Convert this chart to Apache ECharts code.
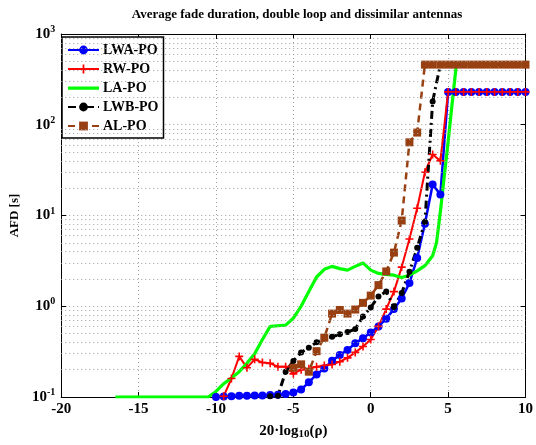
<!DOCTYPE html>
<html>
<head>
<meta charset="utf-8">
<script src="https://cdn.jsdelivr.net/npm/echarts@6/dist/echarts.min.js"></script>
<style>
html,body{margin:0;padding:0;background:#fff;}
#chart{width:536px;height:445px;}
</style>
</head>
<body>
<div id="chart"></div>
<script>
// ---- data ----
const lwaX = [-10,-9.5,-9,-8.5,-8,-7.5,-7,-6.5,-6,-5.5,-5,-4.5,-4,-3.5,-3,-2.5,-2,-1.5,-1,-0.5,0,0.5,1,1.5,2,2.5,3,3.5,4,4.5,5,5.5,6,6.5,7,7.5,8,8.5,9,9.5,10];
const lwaY = [0.100,0.101,0.102,0.103,0.103,0.104,0.104,0.105,0.106,0.108,0.112,0.121,0.145,0.177,0.206,0.251,0.291,0.33,0.39,0.445,0.515,0.60,0.73,0.93,1.22,1.8,3.4,8.1,22,17,230,230,230,230,230,230,230,230,230,230,230];

const rwX = [-9.5,-9,-8.5,-8,-7.5,-7,-6.5,-6,-5.5,-5,-4.5,-4,-3.5,-3,-2.5,-2,-1.5,-1,-0.5,0,0.5,1,1.5,2,2.5,3,3.5,4,4.5,5,5.5,6,6.5,7,7.5,8,8.5,9,9.5,10];
const rwY = [0.102,0.16,0.28,0.21,0.26,0.24,0.235,0.216,0.216,0.18,0.20,0.205,0.215,0.222,0.228,0.245,0.27,0.31,0.36,0.43,0.60,0.93,1.45,2.7,5.5,12,30,47,40,230,230,230,230,230,230,230,230,230,230,230];

const laX = [-16.5,-10.5,-10,-9.5,-9,-8.5,-8,-7.5,-7,-6.5,-6,-5.5,-5,-4.5,-4,-3.5,-3,-2.5,-2,-1.5,-1,-0.5,0,0.5,1,1.5,2,2.5,3,3.5,4,4.25,4.5,4.75,5,5.25,5.5,5.55,10];
const laY = [0.1,0.1,0.115,0.14,0.162,0.19,0.235,0.30,0.43,0.60,0.61,0.62,0.74,1.0,1.45,2.1,2.55,2.75,2.6,2.5,2.75,3.0,2.5,2.3,2.25,2.2,2.07,2.2,2.45,2.8,3.6,5.0,11,27,65,165,410,460,460];

const lwbX = [-6.5,-6,-5.5,-5,-4.5,-4,-3.5,-3,-2.5,-2,-1.5,-1,-0.5,0,0.5,1,1.5,2,2.5,3,3.5,4,4.5,10];
const lwbY = [0.102,0.103,0.19,0.25,0.31,0.35,0.40,0.44,0.46,0.49,0.52,0.56,0.77,0.97,1.28,1.45,0.98,1.4,2.4,4.4,8.5,180,460,460];

const alX = [-5,-4.5,-4,-3.5,-3,-2.5,-2,-1.5,-1,-0.5,0,0.5,1,1.5,2,2.5,3,3.5,4,4.5,5,5.5,6,6.5,7,7.5,8,8.5,9,9.5,10];
const alY = [0.21,0.229,0.19,0.32,0.45,0.83,0.91,0.83,0.92,1.09,1.31,1.71,2.42,3.9,8.8,64,82,460,460,460,460,460,460,460,460,460,460,460,460,460,460];

const seriesNames = ['LWA-PO','RW-PO','LA-PO','LWB-PO','AL-PO'];
const yMinorGrid = [0.2,0.3,0.4,0.5,0.6,0.7,0.8,0.9,2,3,4,5,6,7,8,9,20,30,40,50,60,70,80,90,200,300,400,500,600,700,800,900];

function pairs(xs, ys){ return xs.map((x,i)=>[x, ys[i]]); }

const FONT = '"Liberation Serif","Times New Roman",serif';
const gridDot = {color:'#a0a0a0', type:[1,3], width:1};
// legend icon for the marker-less green line: a bar with tiny invisible corners keeping a 31x11 box
const barIcon = 'path://M0,0h0.01v0.01h-0.01zM0,4h31v3.2h-31zM30.99,10.99h0.01v0.01h-0.01z';

const chart = echarts.init(document.getElementById('chart'), null, {renderer:'canvas'});
chart.setOption({
  animation:false,
  backgroundColor:'#fff',
  title:{
    text:'Average fade duration, double loop and dissimilar antennas',
    left:292, top:3, textAlign:'center',
    textStyle:{fontFamily:FONT, fontWeight:'bold', fontSize:13, color:'#000'}
  },
  grid:{left:55, right:6, top:34, bottom:40, containLabel:false},
  legend:{
    orient:'vertical', left:62, top:37,
    data:[
      {name:seriesNames[0]},
      {name:seriesNames[1]},
      {name:seriesNames[2], icon:barIcon, itemStyle:{color:'#00ff00'}},
      {name:seriesNames[3]},
      {name:seriesNames[4]}
    ],
    backgroundColor:'#fff', borderColor:'#000', borderWidth:1.5,
    padding:[6,5,5,5], itemGap:5, itemWidth:31, itemHeight:11,
    textStyle:{fontFamily:FONT, fontWeight:'bold', fontSize:14, color:'#000', padding:[0,0,0,-1]}
  },
  xAxis:[{
    type:'value', min:-20, max:10, interval:5,
    name:'20·log{sub|10}(ρ)', nameLocation:'middle', nameGap:25,
    nameTextStyle:{fontFamily:FONT, fontWeight:'bold', fontSize:15, color:'#000',
      rich:{sub:{fontFamily:FONT, fontWeight:'bold', fontSize:11, verticalAlign:'bottom', padding:[7,0,0,0], color:'#000'}}},
    axisLine:{onZero:false, lineStyle:{color:'#000', width:1}},
    axisTick:{inside:true, length:5, lineStyle:{color:'#000'}},
    axisLabel:{fontFamily:FONT, fontWeight:'bold', fontSize:15, color:'#000', margin:5},
    splitLine:{show:true, lineStyle:gridDot}
  },{
    type:'value', min:-20, max:10, interval:5, position:'top',
    axisLine:{show:true, onZero:false, lineStyle:{color:'#000', width:1}},
    axisTick:{inside:true, length:5, lineStyle:{color:'#000'}},
    axisLabel:{show:false}, splitLine:{show:false}
  }],
  yAxis:[{
    type:'log', logBase:10, min:0.1, max:1000,
    name:'AFD [s]', nameLocation:'middle', nameGap:40, nameRotate:90,
    nameTextStyle:{fontFamily:FONT, fontWeight:'bold', fontSize:13, color:'#000'},
    axisLine:{show:true, onZero:false, lineStyle:{color:'#000', width:1}},
    axisTick:{inside:true, length:5, lineStyle:{color:'#000'}},
    axisLabel:{
      fontFamily:FONT, fontWeight:'bold', fontSize:15, color:'#000', margin:6,
      formatter:function(v){ return '10{sup|' + Math.round(Math.log10(v)) + '}'; },
      rich:{sup:{fontFamily:FONT, fontWeight:'bold', fontSize:10, verticalAlign:'top', padding:[0,0,9,0], color:'#000'}}
    },
    splitLine:{show:true, lineStyle:gridDot}
  },{
    type:'log', logBase:10, min:0.1, max:1000, position:'right',
    axisLine:{show:true, onZero:false, lineStyle:{color:'#000', width:1}},
    axisTick:{inside:true, length:5, lineStyle:{color:'#000'}},
    axisLabel:{show:false}, splitLine:{show:false}
  }],
  series:[
    {
      name:'minor-grid', type:'line', data:[], silent:true,
      markLine:{silent:true, symbol:['none','none'], label:{show:false},
        lineStyle:gridDot, animation:false,
        data:yMinorGrid.map(v=>({yAxis:v}))}
    },
    {
      name:seriesNames[0], type:'line', data:pairs(lwaX,lwaY),
      symbol:'circle', symbolSize:8, showAllSymbol:true,
      lineStyle:{color:'#0000ff', width:2.5},
      itemStyle:{color:'#0000ff'}
    },
    {
      name:seriesNames[1], type:'line', data:pairs(rwX,rwY),
      symbol:'path://M4,0h2v4h4v2h-4v4h-2v-4h-4v-2h4z', symbolSize:8, showAllSymbol:true,
      lineStyle:{color:'#ff0000', width:2},
      itemStyle:{color:'#ff0000'}
    },
    {
      name:seriesNames[2], type:'line', data:pairs(laX,laY),
      symbol:'none', showSymbol:false,
      lineStyle:{color:'#00ff00', width:3.2},
      itemStyle:{color:'#00ff00'}
    },
    {
      name:seriesNames[3], type:'line', data:pairs(lwbX,lwbY),
      symbol:'circle', symbolSize:6, showAllSymbol:true,
      lineStyle:{color:'#000', width:3, type:[8,4,2,4]},
      itemStyle:{color:'#000'}
    },
    {
      name:seriesNames[4], type:'line', data:pairs(alX,alY),
      symbol:'rect', symbolSize:8, showAllSymbol:true,
      lineStyle:{color:'#994012', width:2.5, type:[7,5]},
      itemStyle:{color:'#994012'}
    }
  ]
});
</script>
</body>
</html>
